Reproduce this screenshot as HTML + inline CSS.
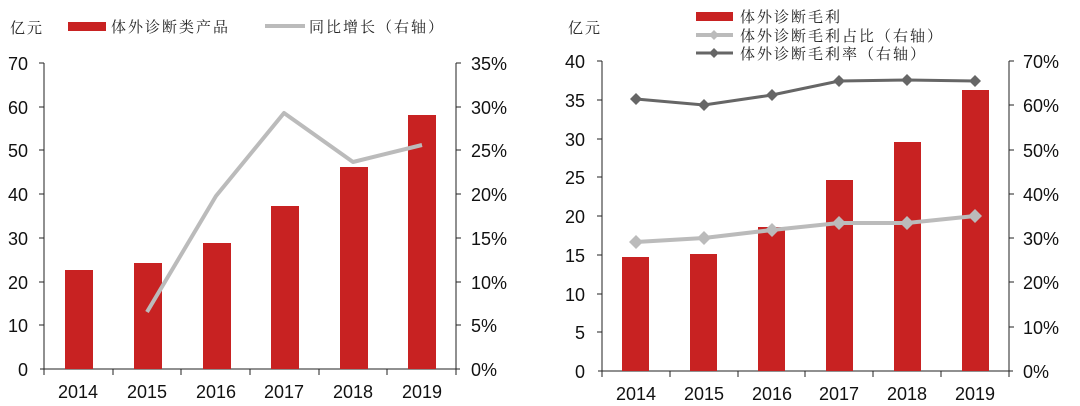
<!DOCTYPE html>
<html><head><meta charset="utf-8"><style>
html,body{margin:0;padding:0;background:#fff;width:1080px;height:406px;overflow:hidden;}
svg{display:block;font-family:"Liberation Sans","Noto Sans CJK SC",sans-serif;}
.t{font-size:18px;fill:#111;}
.c{font-size:15px;fill:#222;font-family:"Noto Serif CJK SC","Noto Sans CJK SC",serif;letter-spacing:2px;}
</style></head><body>
<svg width="1080" height="406" viewBox="0 0 1080 406">

<!-- LEFT CHART -->
<g>
<text x="10" y="33" class="c">亿元</text>
<rect x="68" y="22" width="38" height="9" fill="#c82222"/>
<text x="111" y="32" class="c">体外诊断类产品</text>
<line x1="265" y1="26" x2="305" y2="26" stroke="#bbb" stroke-width="4"/>
<text x="309" y="32" class="c">同比增长（右轴）</text>
<line x1="44" y1="63" x2="44" y2="369" stroke="#222"/>
<line x1="456" y1="63" x2="456" y2="369" stroke="#222"/>
<line x1="40" y1="369" x2="460" y2="369" stroke="#222"/>
<g stroke="#222">
<line x1="39" y1="63" x2="44" y2="63"/><line x1="39" y1="107" x2="44" y2="107"/><line x1="39" y1="150" x2="44" y2="150"/><line x1="39" y1="194" x2="44" y2="194"/><line x1="39" y1="238" x2="44" y2="238"/><line x1="39" y1="282" x2="44" y2="282"/><line x1="39" y1="325" x2="44" y2="325"/>
<line x1="456" y1="63" x2="461" y2="63"/><line x1="456" y1="107" x2="461" y2="107"/><line x1="456" y1="150" x2="461" y2="150"/><line x1="456" y1="194" x2="461" y2="194"/><line x1="456" y1="238" x2="461" y2="238"/><line x1="456" y1="282" x2="461" y2="282"/><line x1="456" y1="325" x2="461" y2="325"/>
<line x1="44" y1="369" x2="44" y2="375"/><line x1="113" y1="369" x2="113" y2="375"/><line x1="181" y1="369" x2="181" y2="375"/><line x1="250" y1="369" x2="250" y2="375"/><line x1="319" y1="369" x2="319" y2="375"/><line x1="387" y1="369" x2="387" y2="375"/><line x1="456" y1="369" x2="456" y2="375"/>
</g>
<g class="t" text-anchor="end">
<text x="28" y="70">70</text><text x="28" y="114">60</text><text x="28" y="157">50</text><text x="28" y="201">40</text><text x="28" y="245">30</text><text x="28" y="289">20</text><text x="28" y="332">10</text><text x="28" y="376">0</text>
</g>
<g class="t">
<text x="471" y="70">35%</text><text x="471" y="114">30%</text><text x="471" y="157">25%</text><text x="471" y="201">20%</text><text x="471" y="245">15%</text><text x="471" y="289">10%</text><text x="471" y="332">5%</text><text x="471" y="376">0%</text>
</g>
<g class="t" text-anchor="middle">
<text x="78" y="398">2014</text><text x="147" y="398">2015</text><text x="216" y="398">2016</text><text x="284" y="398">2017</text><text x="353" y="398">2018</text><text x="422" y="398">2019</text>
</g>
<g fill="#c82222">
<rect x="65" y="270" width="28" height="99"/><rect x="134" y="263" width="28" height="106"/><rect x="203" y="243" width="28" height="126"/><rect x="271" y="206" width="28" height="163"/><rect x="340" y="167" width="28" height="202"/><rect x="408" y="115" width="28" height="254"/>
</g>
<polyline points="147,312 216,196 284,113 353,162 422,145" fill="none" stroke="#bbb" stroke-width="4" stroke-linejoin="round"/>
</g>

<!-- RIGHT CHART -->
<g>
<text x="568" y="33" class="c">亿元</text>
<rect x="696" y="12" width="37" height="9" fill="#c82222"/>
<text x="740" y="22" class="c">体外诊断毛利</text>
<line x1="696" y1="35" x2="733" y2="35" stroke="#bbb" stroke-width="4"/>
<path d="M714,30 l5,5 -5,5 -5,-5z" fill="#bbb"/>
<text x="740" y="41" class="c">体外诊断毛利占比（右轴）</text>
<line x1="696" y1="53" x2="733" y2="53" stroke="#666" stroke-width="3"/>
<path d="M714,48 l5,5 -5,5 -5,-5z" fill="#666"/>
<text x="740" y="59" class="c">体外诊断毛利率（右轴）</text>
<line x1="602" y1="61" x2="602" y2="371" stroke="#222"/>
<line x1="1009" y1="61" x2="1009" y2="371" stroke="#222"/>
<line x1="598" y1="371" x2="1013" y2="371" stroke="#222"/>
<g stroke="#222">
<line x1="597" y1="61" x2="602" y2="61"/><line x1="597" y1="100" x2="602" y2="100"/><line x1="597" y1="139" x2="602" y2="139"/><line x1="597" y1="177" x2="602" y2="177"/><line x1="597" y1="216" x2="602" y2="216"/><line x1="597" y1="255" x2="602" y2="255"/><line x1="597" y1="294" x2="602" y2="294"/><line x1="597" y1="332" x2="602" y2="332"/>
<line x1="1009" y1="61" x2="1014" y2="61"/><line x1="1009" y1="105" x2="1014" y2="105"/><line x1="1009" y1="150" x2="1014" y2="150"/><line x1="1009" y1="194" x2="1014" y2="194"/><line x1="1009" y1="238" x2="1014" y2="238"/><line x1="1009" y1="282" x2="1014" y2="282"/><line x1="1009" y1="327" x2="1014" y2="327"/>
<line x1="602" y1="371" x2="602" y2="377"/><line x1="670" y1="371" x2="670" y2="377"/><line x1="738" y1="371" x2="738" y2="377"/><line x1="805" y1="371" x2="805" y2="377"/><line x1="873" y1="371" x2="873" y2="377"/><line x1="941" y1="371" x2="941" y2="377"/><line x1="1009" y1="371" x2="1009" y2="377"/>
</g>
<g class="t" text-anchor="end">
<text x="585" y="68">40</text><text x="585" y="107">35</text><text x="585" y="146">30</text><text x="585" y="184">25</text><text x="585" y="223">20</text><text x="585" y="262">15</text><text x="585" y="301">10</text><text x="585" y="339">5</text><text x="585" y="378">0</text>
</g>
<g class="t">
<text x="1023" y="68">70%</text><text x="1023" y="112">60%</text><text x="1023" y="157">50%</text><text x="1023" y="201">40%</text><text x="1023" y="245">30%</text><text x="1023" y="289">20%</text><text x="1023" y="334">10%</text><text x="1023" y="378">0%</text>
</g>
<g class="t" text-anchor="middle">
<text x="636" y="400">2014</text><text x="704" y="400">2015</text><text x="772" y="400">2016</text><text x="839" y="400">2017</text><text x="907" y="400">2018</text><text x="975" y="400">2019</text>
</g>
<g fill="#c82222">
<rect x="622" y="257" width="27" height="114"/><rect x="690" y="254" width="27" height="117"/><rect x="758" y="227" width="27" height="144"/><rect x="826" y="180" width="27" height="191"/><rect x="894" y="142" width="27" height="229"/><rect x="962" y="90" width="27" height="281"/>
</g>
<polyline points="636,99 704,105 772,95 839,81 907,80 975,81" fill="none" stroke="#666" stroke-width="3"/>
<g fill="#666">
<path d="M636,93 l6,6 -6,6 -6,-6z"/><path d="M704,99 l6,6 -6,6 -6,-6z"/><path d="M772,89 l6,6 -6,6 -6,-6z"/><path d="M839,75 l6,6 -6,6 -6,-6z"/><path d="M907,74 l6,6 -6,6 -6,-6z"/><path d="M975,75 l6,6 -6,6 -6,-6z"/>
</g>
<polyline points="636,242 704,238 772,230 839,223 907,223 975,216" fill="none" stroke="#bbb" stroke-width="4"/>
<g fill="#bbb">
<path d="M636,235 l7,7 -7,7 -7,-7z"/><path d="M704,231 l7,7 -7,7 -7,-7z"/><path d="M772,223 l7,7 -7,7 -7,-7z"/><path d="M839,216 l7,7 -7,7 -7,-7z"/><path d="M907,216 l7,7 -7,7 -7,-7z"/><path d="M975,209 l7,7 -7,7 -7,-7z"/>
</g>
</g>
</svg>
</body></html>
